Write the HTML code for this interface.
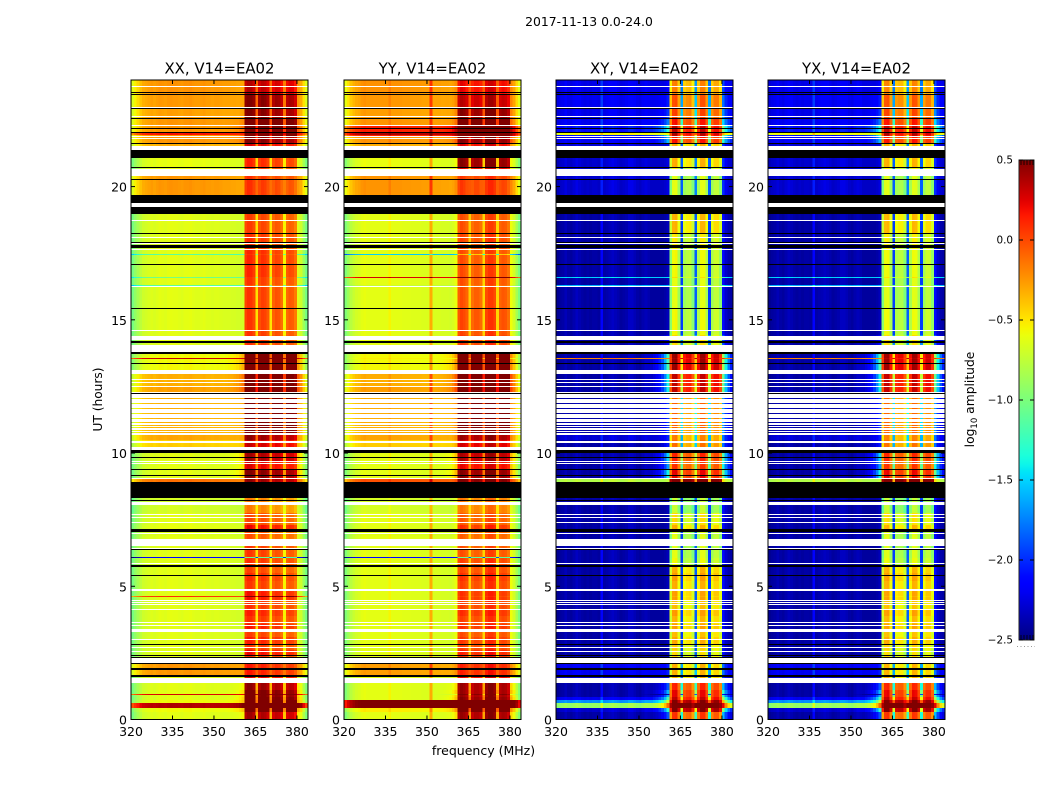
<!DOCTYPE html>
<html>
<head>
<meta charset="utf-8">
<title>2017-11-13 0.0-24.0</title>
<style>
html,body{margin:0;padding:0;background:#fff;width:1050px;height:800px;overflow:hidden}
svg{display:block}
text{font-family:"DejaVu Sans","Liberation Sans",sans-serif;fill:#000}
</style>
</head>
<body>
<svg id="figure" xmlns="http://www.w3.org/2000/svg" width="1050" height="800" viewBox="0 0 1050 800">
<rect x="0" y="0" width="1050" height="800" fill="#fff"/>
<text x="589" y="26" font-size="12.4" text-anchor="middle">2017-11-13 0.0-24.0</text>
<text x="483.5" y="755" font-size="12.5" text-anchor="middle">frequency (MHz)</text>
<text transform="translate(102,399.5) rotate(-90)" font-size="12.2" text-anchor="middle">UT (hours)</text>
<text transform="translate(974,399.5) rotate(-90)" font-size="12.3" text-anchor="middle">log<tspan font-size="8.5" dy="3">10</tspan><tspan dy="-3"> amplitude</tspan></text>
<g id="panels"></g>
<g id="colorbar"></g>
</svg>
<script>
// ---- chart data ----
const panelTitles = ["XX, V14=EA02", "YY, V14=EA02", "XY, V14=EA02", "YX, V14=EA02"];
const freqTicks = [320, 335, 350, 365, 380];
const hourTicks = [0, 5, 10, 15, 20];
const colorTicks = [0.5, 0.0, -0.5, -1.0, -1.5, -2.0, -2.5];
const channelStarts = [320,321,322,323,324,325,326,327,328,329,330,331,332,333,334,335,336,337,338,339,340,341,342,343,344,345,346,347,348,349,350,351,352,353,354,355,356,357,358,359,360,361,362,363,364,365,366,367,368,369,370,371,372,373,374,375,376,377,378,379,380,381,382,383];
const bandRanges = [[361,365],[366,370],[371,375],[376,380]];

// log10 amplitude per channel, quiet-time spectrum
const spectrumXX = [-1.02,-0.92,-0.84,-0.76,-0.7,-0.68,-0.66,-0.64,-0.66,-0.64,-0.62,-0.63,-0.64,-0.62,-0.61,-0.62,-0.62,-0.63,-0.64,-0.62,-0.62,-0.61,-0.63,-0.64,-0.64,-0.63,-0.62,-0.64,-0.64,-0.65,-0.64,-0.64,-0.65,-0.66,-0.66,-0.66,-0.67,-0.67,-0.68,-0.68,-0.68,-0.08,-0.02,-0.03,-0.1,-0.48,-0.12,-0.06,-0.08,-0.15,-0.5,-0.18,-0.12,-0.14,-0.22,-0.55,-0.2,-0.15,-0.17,-0.26,-0.64,-0.7,-0.88,-1.02];
const spectrumYY = [-0.98,-0.88,-0.78,-0.72,-0.68,-0.66,-0.62,-0.6,-0.62,-0.62,-0.62,-0.62,-0.62,-0.62,-0.62,-0.62,-0.55,-0.62,-0.62,-0.62,-0.62,-0.63,-0.63,-0.63,-0.64,-0.64,-0.64,-0.64,-0.65,-0.65,-0.65,-0.32,-0.66,-0.66,-0.66,-0.67,-0.67,-0.67,-0.68,-0.66,-0.6,-0.12,-0.05,-0.08,-0.14,-0.42,-0.18,-0.12,-0.12,-0.18,-0.45,-0.06,0.0,0.0,-0.06,-0.45,-0.14,-0.1,-0.12,-0.2,-0.58,-0.68,-0.85,-1.0];
const spectrumXY = [-2.45,-2.42,-2.4,-2.35,-2.4,-2.42,-2.38,-2.33,-2.37,-2.4,-2.42,-2.4,-2.42,-2.4,-2.4,-2.42,-2.15,-2.4,-2.38,-2.35,-2.32,-2.35,-2.38,-2.42,-2.4,-2.38,-2.32,-2.32,-2.36,-2.4,-2.42,-2.38,-2.35,-2.38,-2.42,-2.42,-2.42,-2.42,-2.42,-2.4,-2.35,-1.1,-0.72,-0.7,-0.98,-1.95,-0.98,-0.92,-0.9,-1.1,-1.85,-0.95,-0.72,-0.72,-0.95,-1.95,-0.98,-0.85,-0.85,-1.05,-2.1,-2.3,-2.38,-2.4];
const spectrumYX = [-2.45,-2.42,-2.4,-2.36,-2.4,-2.42,-2.38,-2.34,-2.37,-2.4,-2.42,-2.4,-2.42,-2.4,-2.4,-2.42,-2.15,-2.4,-2.38,-2.36,-2.33,-2.35,-2.38,-2.42,-2.4,-2.38,-2.33,-2.33,-2.36,-2.4,-2.42,-2.38,-2.35,-2.38,-2.42,-2.42,-2.42,-2.42,-2.42,-2.4,-2.35,-1.1,-0.74,-0.72,-0.98,-1.95,-0.96,-0.92,-0.92,-1.1,-1.85,-0.95,-0.72,-0.74,-0.95,-1.95,-0.98,-0.85,-0.85,-1.05,-2.1,-2.3,-2.38,-2.4];
const leakProfile = [0,0,0,0,0,0,0,0,0,0,0,0,0,0,0,0,0,0,0,0,0,0,0,0,0,0,0,0,0,0,0,0.02,0.04,0.06,0.1,0.15,0.22,0.32,0.45,0.65,0.95,0,0,0,0,1.2,0,0,0,0,1.2,0,0,0,0,1.2,0,0,0,0,1.05,0.75,0.5,0.3];

// start h, end h, xx low, xx band, yy low, yy band, cross low, cross band, leak
const timeRows = [
[0,0.3,0,0.45,0,0.5,0,0.8,0.5],
[0.3,0.42,0.05,0.8,0.1,0.7,0.1,1.25,1],
[0.42,0.63,1.0,0.9,1.15,1,1.5,1.5,0.8],
[0.63,0.72,0.05,0.85,1.15,1,0.7,1.3,1],
[0.72,0.85,0,0.65,0,0.55,0.2,1.05,1],
[0.85,1.1,0,0.6,0,0.5,0,0.95,0.8],
[1.1,1.36,0,0.5,0,0.5,0,0.85,0.5],
[1.36,1.67,0,0.3,0,0.3,0.1,0.4,0],
[1.67,2.11,0.38,0.2,0.35,0.2,0.2,0.4,0.1],
[2.11,2.4,0,0.12,0,0.15,0,0.3,0],
[2.4,2.6,0,0.25,0,0.2,0,0.25,0],
[2.6,2.85,0,0.1,0,0.1,0,0.3,0],
[2.85,3.1,0,0.18,0,0.12,0,0.42,0],
[3.1,3.3,0,0.08,0,0.06,0,0.35,0],
[3.3,3.6,0,0.2,0,0.15,0,0.45,0],
[3.6,3.9,0,0.12,0,0.1,0,0.38,0],
[3.9,4.15,0,0.18,0,0.16,0,0.46,0],
[4.15,4.5,0,0.12,0,0.1,0,0.35,0],
[4.5,4.85,0,0.22,0,0.15,0,0.45,0],
[4.85,5.2,0,0.1,0,0.1,0,0.4,0],
[5.2,5.5,0,0.14,0,0.14,0,0.46,0],
[5.5,5.75,0,0.06,0,0.08,0,0.4,0],
[5.75,6.1,0,0.12,0,0.1,0,0.15,0],
[6.1,6.53,0,0.1,0,0.05,0,0.1,0],
[6.53,7.05,0,0.02,0,0,0,0.1,0],
[7.05,7.3,0.02,0.25,0,0.15,0,0.4,0],
[7.3,7.76,0,0.05,0,0.02,0,0.25,0],
[7.76,8.35,-0.05,-0.12,-0.05,-0.08,0,0,0],
[8.35,8.92,0,0,0,0,0,0,0],
[8.92,9.03,0.5,0.5,0.6,0.6,1.6,1.5,0],
[9.03,9.4,0,0.55,0,0.55,0,0.95,1],
[9.4,9.7,0,0.3,0,0.3,0,0.8,0.7],
[9.7,10.05,0,0.45,0,0.45,0,0.85,0.9],
[10.05,10.5,0.2,0.35,0.2,0.35,0,0.6,0.3],
[10.5,10.67,0.33,0.5,0.33,0.5,0.12,0.55,0.2],
[10.67,12.25,0.3,0.7,0.3,0.7,0,0.65,0.4],
[12.25,12.46,0.35,0.8,0.35,0.8,0,1.05,1],
[12.46,13.1,0.3,0.7,0.3,0.7,0,1.05,1],
[13.1,13.78,0.06,0.8,0.06,0.75,0,1.15,1.2],
[13.78,14.42,0,0.12,0,0.12,0,0.25,0.2],
[14.42,15.4,0,0.1,0,0.08,0,0.15,0],
[15.4,16.6,0,0.1,0,0.05,0,0.1,0],
[16.6,17.65,0,0.15,0,0.06,0,0.15,0],
[17.65,18.25,0,0.12,0,0.08,0,0.2,0],
[18.25,19,0,0.08,0,0.05,0,0.38,0],
[19,19.67,0.3,0.1,0.3,0.1,0.1,0.1,0],
[19.67,20.38,0.38,0.12,0.38,0.12,0.1,0.1,0],
[20.38,20.71,0,0.1,0,0.3,0.1,0.2,0],
[20.71,21.08,0.02,0.16,0.02,0.55,0.1,0.4,0],
[21.08,21.6,0.3,0.3,0.3,0.3,0.12,0.4,0],
[21.6,21.85,0.38,0.55,0.38,0.55,0.2,0.9,0.6],
[21.85,22.3,0.38,0.85,0.75,0.85,0.3,1.05,0.8],
[22.3,22.58,0.38,0.7,0.38,0.75,0.2,0.9,0.4],
[22.58,22.92,0.35,0.55,0.35,0.55,0.18,0.75,0.2],
[22.92,23.45,0.37,0.55,0.37,0.42,0.2,0.7,0.1],
[23.45,24,0.39,0.4,0.39,0.3,0.18,0.55,0],
[0.93,0.97,0.9,0.9,0,0.6,0,0.95,0],
[4.6,4.64,0.7,0.7,0,0.1,0,0.4,0],
[6.06,6.1,-1.5,-1,-1.5,-1,0,0.1,0],
[13.52,13.56,0.95,0.9,0.1,0.8,2.2,1.1,0],
[17.42,17.46,-0.5,0.1,-0.9,-0.3,0,0.15,0],
[16.56,16.6,-0.4,0.1,0.9,0.9,0.9,0.25,0],
[16.28,16.32,-0.5,0,-0.1,0,0.8,0.15,0],
[21.93,22.0,0.8,0.8,1,1,1.8,1.1,0]
];
// flagged time ranges (hours): no data
const blankRanges = [[1.36,1.54],[2.11,2.29],[2.54,2.57],[2.7,2.73],[2.98,3.02],[3.3,3.4],[3.52,3.56],[3.63,3.67],[4.12,4.16],[4.3,4.34],[4.36,4.4],[4.45,4.49],[4.84,4.88],[5.84,5.88],[6.4,6.44],[6.53,6.76],[6.96,7],[7.37,7.41],[7.56,7.6],[7.68,7.72],[8.06,8.16],[9.03,9.07],[9.59,9.63],[9.65,9.69],[10.06,10.22],[10.38,10.45],[10.69,10.75],[10.79,10.83],[10.87,10.94],[10.98,11.02],[11.06,11.12],[11.16,11.27],[11.31,11.46],[11.5,11.65],[11.69,11.84],[11.88,12.02],[12.06,12.21],[12.25,12.28],[12.46,12.52],[12.62,12.66],[12.74,12.78],[12.95,13.1],[13.79,14.04],[14.25,14.41],[14.58,14.62],[16.23,16.28],[17.62,17.66],[17.83,17.87],[18.08,18.12],[18.72,18.76],[19.25,19.37],[20.38,20.67],[21.36,21.53],[21.78,21.82],[21.85,21.89],[22.27,22.31],[22.6,22.64],[22.96,23],[23.74,23.78]];
// flagged time ranges (hours): zero amplitude
const maskedRanges = [[1.58,1.67],[1.86,1.92],[2.07,2.11],[2.31,2.35],[2.38,2.41],[2.78,2.82],[5.39,5.43],[5.74,5.78],[6.36,6.4],[7.05,7.15],[8.19,8.23],[8.3,8.34],[8.35,8.92],[9.14,9.18],[9.36,9.4],[9.81,9.85],[10.02,10.11],[12.21,12.25],[13.34,13.38],[13.73,13.78],[14.12,14.2],[15.41,15.45],[17.05,17.09],[17.68,17.82],[17.87,17.91],[18.22,18.26],[18.98,19.25],[19.37,19.67],[20.24,20.28],[20.69,20.73],[21.08,21.36],[21.59,21.63],[22.01,22.05],[22.15,22.19],[22.54,22.58],[22.9,22.94],[23.43,23.47],[23.51,23.55]];

// ---- layout ----
const panelLefts = [131, 344, 556, 768];
const panelWidth = 177;
const plotTop = 80, plotBottom = 719.5;
const colorMin = -2.5, colorMax = 0.5;
const cbLeft = 1019, cbRight = 1034, cbTop = 160, cbBottom = 640;
const NS = "http://www.w3.org/2000/svg";

function xScale(left, mhz) { return left + (mhz - 320) * panelWidth / 64; }
function yScale(hour) { return plotBottom - hour * (plotBottom - plotTop) / 24; }
function cbScale(v) { return cbBottom - (v - colorMin) * (cbBottom - cbTop) / (colorMax - colorMin); }
function lerpStops(stops, t) {
  for (let i = 1; i < stops.length; i++) {
    if (t <= stops[i][0]) {
      const a = stops[i - 1], b = stops[i];
      return a[1] + (b[1] - a[1]) * (t - a[0]) / (b[0] - a[0]);
    }
  }
  return stops[stops.length - 1][1];
}
const jetR = [[0,0],[0.35,0],[0.66,1],[0.89,1],[1,0.5]];
const jetG = [[0,0],[0.125,0],[0.375,1],[0.64,1],[0.91,0],[1,0]];
const jetB = [[0,0.5],[0.11,1],[0.34,1],[0.65,0],[1,0]];
function jet(t) {
  t = Math.max(0, Math.min(1, t));
  const c = [jetR, jetG, jetB].map(s => Math.round(255 * lerpStops(s, t)));
  return "rgb(" + c.join(",") + ")";
}
function colorOf(v) { return jet((v - colorMin) / (colorMax - colorMin)); }
function make(tag, attrs, parent) {
  const el = document.createElementNS(NS, tag);
  for (const k in attrs) el.setAttribute(k, attrs[k]);
  parent.appendChild(el);
  return el;
}
function inBand(mhz) { return bandRanges.some(r => mhz >= r[0] && mhz < r[1]); }

const spectra = [spectrumXX, spectrumYY, spectrumXY, spectrumYX];
const panelsGroup = document.getElementById("panels");
const panelKeys = ["xx", "yy", "xy", "yx"];

panelTitles.forEach(function (title, p) {
  const left = panelLefts[p];
  const right = left + panelWidth;
  const g = make("g", {}, panelsGroup);
  
  
  const spec = spectra[p];
  const lowCol = p === 0 ? 2 : p === 1 ? 4 : 6;
  const bandCol = lowCol + 1;
  const leakGain = p < 2 ? 0.25 : 1;

  const cells = make("g", { "shape-rendering": "crispEdges" }, g);
  
  
  timeRows.forEach(function (row) {
    const y0 = Math.round(yScale(row[1]));
    const y1 = Math.max(y0 + 1, Math.round(yScale(row[0])));
    channelStarts.forEach(function (mhz, ch) {
      const band = inBand(mhz);
      const v = spec[ch] + (band ? row[bandCol] : row[lowCol] + row[8] * leakProfile[ch] * leakGain);
      const x0 = xScale(left, mhz);
      const x1 = xScale(left, mhz + 1);
      const r = make("rect", { x: x0.toFixed(2), y: y0, width: (x1 - x0).toFixed(2), height: y1 - y0, fill: colorOf(v) }, cells);
      
      
    });
  });
  blankRanges.forEach(function (rng) {
    const y0 = Math.round(yScale(rng[1]));
    const y1 = Math.max(y0 + 1, Math.round(yScale(rng[0])));
    const r = make("rect", { x: left, y: y0, width: panelWidth, height: y1 - y0, fill: "#fff" }, cells);
    
    
  });
  maskedRanges.forEach(function (rng) {
    const y0 = Math.round(yScale(rng[1]));
    const y1 = Math.max(y0 + 1, Math.round(yScale(rng[0])));
    const r = make("rect", { x: left, y: y0, width: panelWidth, height: y1 - y0, fill: "#000" }, cells);
    
    
  });

  const frame = make("rect", { x: left, y: plotTop, width: panelWidth, height: plotBottom - plotTop, fill: "none", stroke: "#000", "stroke-width": 1 }, g);
  
  

  const t = make("text", { x: left + panelWidth / 2, y: 73.5, "font-size": 14.9, "text-anchor": "middle" }, g);
  t.textContent = title;
  
  

  freqTicks.forEach(function (f) {
    const x = xScale(left, f);
    const tb = make("line", { x1: x, x2: x, y1: plotBottom, y2: plotBottom - 4, stroke: "#000" }, g);
    
    
    const tt = make("line", { x1: x, x2: x, y1: plotTop, y2: plotTop + 4, stroke: "#000" }, g);
    
    
    const lab = make("text", { x: x, y: 736, "font-size": 12.5, "text-anchor": "middle" }, g);
    lab.textContent = f;
    
    
  });
  hourTicks.forEach(function (h) {
    const y = yScale(h);
    const tl = make("line", { x1: left, x2: left + 4, y1: y, y2: y, stroke: "#000" }, g);
    
    
    const tr = make("line", { x1: right, x2: right - 4, y1: y, y2: y, stroke: "#000" }, g);
    
    
    const lab = make("text", { x: left - 4, y: y + 5, "font-size": 12.5, "text-anchor": "end" }, g);
    lab.textContent = h;
    
    
  });
});

// ---- colorbar ----
const cb = document.getElementById("colorbar");
const defs = make("defs", {}, cb);
const grad = make("linearGradient", { id: "jetGradient", x1: 0, y1: 1, x2: 0, y2: 0 }, defs);
for (let i = 0; i <= 60; i++) {
  make("stop", { offset: (i / 60).toFixed(4), "stop-color": jet(i / 60) }, grad);
}
const bar = make("rect", { x: cbLeft, y: cbTop, width: cbRight - cbLeft, height: cbBottom - cbTop, fill: "url(#jetGradient)", stroke: "#222", "stroke-width": 1 }, cb);


colorTicks.forEach(function (v) {
  const y = cbScale(v);
  const a = make("line", { x1: cbLeft, x2: cbLeft + 4, y1: y, y2: y, stroke: "#000" }, cb);
  
  
  const b = make("line", { x1: cbRight, x2: cbRight - 4, y1: y, y2: y, stroke: "#000" }, cb);
  
  
  const lab = make("text", { x: 1013, y: y + 3.5, "font-size": 10.4, "text-anchor": "end" }, cb);
  lab.textContent = v.toFixed(1).replace("-", "\u2212");
  
  
});
[cbTop, cbBottom].forEach(function (edge) {
  const dir = edge === cbTop ? 1 : -1;
  for (let x = cbLeft + 2; x < cbRight; x += 3) {
    const m = make("line", { x1: x, x2: x, y1: edge, y2: edge + dir * 5, stroke: "#000", "stroke-width": 0.8 }, cb);
    
    
  }
});
const dots = make("line", { x1: 1017, x2: 1035, y1: 646.5, y2: 646.5, stroke: "#999", "stroke-width": 1, "stroke-dasharray": "1 2.5" }, cb);


</script>
</body>
</html>
